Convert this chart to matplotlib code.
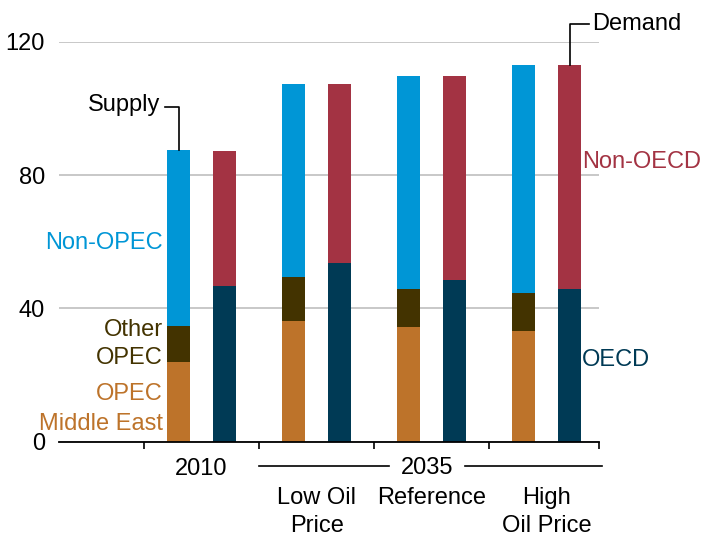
import numpy as np
import matplotlib.pyplot as plt

plt.rcParams['font.family'] = ['Liberation Sans', 'DejaVu Sans']

categories = ['2010', 'Low Oil\nPrice', 'Reference', 'High\nOil Price']
opec_me = [24.0, 36.2, 34.4, 33.2]
other_opec = [10.7, 13.3, 11.4, 11.4]
non_opec = [52.8, 57.8, 63.9, 68.4]
oecd = [46.8, 53.6, 48.5, 45.8]
non_oecd = [40.4, 53.7, 61.2, 67.2]

c_me = '#BD732A'
c_oth = '#433300'
c_nonopec = '#0096D6'
c_oecd = '#003A55'
c_nonoecd = '#A33343'

fs = 17
fig = plt.figure(figsize=(7.02, 5.37), dpi=100)
ax = fig.add_axes([59 / 702, 1 - 441.7 / 537, 540 / 702, 400 / 537])

x = np.arange(len(categories))
w = 0.2
xs = x - 0.197
xd = x + 0.2
ax.bar(xs, opec_me, w, color=c_me, zorder=3)
ax.bar(xs, other_opec, w, bottom=opec_me, color=c_oth, zorder=3)
b2 = np.array(opec_me) + np.array(other_opec)
ax.bar(xs, non_opec, w, bottom=b2, color=c_nonopec, zorder=3)
ax.bar(xd, oecd, w, color=c_oecd, zorder=3)
ax.bar(xd, non_oecd, w, bottom=oecd, color=c_nonoecd, zorder=3)

ax.set_xlim(-1.24, 3.456)
ax.set_ylim(0, 120)
ax.set_yticks([0, 40, 80, 120])
ax.yaxis.grid(True, color='#BFBFBF', linewidth=1.2, zorder=0)
ax.tick_params(axis='y', length=0, pad=10, labelsize=fs)
ax.set_xticks([-0.5, 0.5, 1.5, 2.5, 3.456])
ax.set_xticklabels([])
ax.tick_params(axis='x', length=5, width=1.2, color='black')
for s in ['left', 'right', 'top']:
    ax.spines[s].set_visible(False)
ax.spines['bottom'].set_linewidth(1.3)
ax.spines['bottom'].set_zorder(4)

# category labels
ax.text(0, -8.2, '2010', ha='center', va='center', fontsize=fs, clip_on=False)
ax.text(1.96, -8.0, '2035', ha='center', va='center', fontsize=fs, clip_on=False)
ax.plot([0.5, 1.63], [-7.4, -7.4], color='black', lw=1.2, clip_on=False)
ax.plot([2.29, 3.48], [-7.4, -7.4], color='black', lw=1.2, clip_on=False)
for i in range(1, 4):
    for k, line in enumerate(categories[i].split('\n')):
        ax.text(x[i], -17.0 - 8.2 * k, line, ha='center', va='center', fontsize=fs,
                clip_on=False)

# series labels
def side_label(xx, ys, txt, col, ha):
    for yy, line in zip(ys, txt.split('\n')):
        ax.text(xx, yy, line, color=col, ha=ha, va='center', fontsize=fs, clip_on=False)

side_label(-0.336, [59.6], 'Non-OPEC', c_nonopec, 'right')
side_label(-0.336, [33.5, 25.1], 'Other\nOPEC', c_oth, 'right')
side_label(-0.336, [14.3, 5.3], 'OPEC\nMiddle East', c_me, 'right')
side_label(3.308, [83.8], 'Non-OECD', c_nonoecd, 'left')
side_label(3.308, [24.6], 'OECD', c_oecd, 'left')

# callouts
ax.text(-0.362, 101.0, 'Supply', ha='right', va='center', fontsize=fs)
ax.plot([-0.318, xs[0], xs[0]], [100.4, 100.4, 87.5], color='black', lw=1.2, zorder=4)
ax.text(3.395, 125.3, 'Demand', ha='left', va='center', fontsize=fs, clip_on=False)
ax.plot([3.369, xd[3], xd[3]], [125.3, 125.3, 113.0], color='black', lw=1.2,
        clip_on=False, zorder=4)

fig.savefig('out.png', dpi=100)
